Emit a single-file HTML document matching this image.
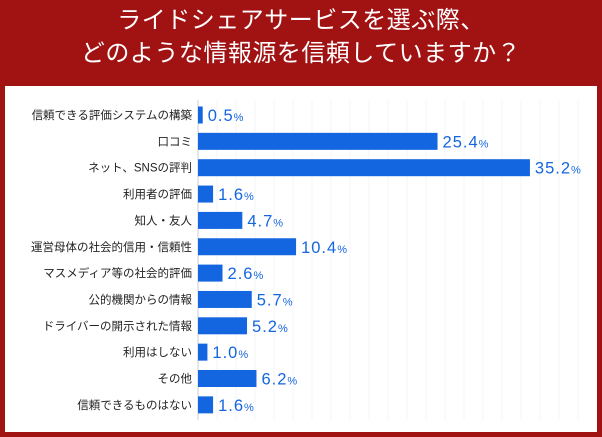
<!DOCTYPE html>
<html><head><meta charset="utf-8"><style>
body{margin:0;width:602px;height:437px;background:#a11213;overflow:hidden;font-family:"Liberation Sans","Noto Sans CJK JP",sans-serif}
#title{position:absolute;left:0;top:4px;width:602px;text-align:center;color:#fff;font-size:24px;line-height:33px;letter-spacing:0.5px}
#panel{position:absolute;left:5px;top:86px;width:592px;height:346px;background:#fff}
</style></head><body>
<div id="title">ライドシェアサービスを選ぶ際、<br>どのような情報源を信頼していますか？</div>
<div id="panel"></div>
<svg id="chart" width="602" height="437" style="position:absolute;left:0;top:0"></svg>
<script>
const categories=["信頼できる評価システムの構築","口コミ","ネット、SNSの評判","利用者の評価","知人・友人","運営母体の社会的信用・信頼性","マスメディア等の社会的評価","公的機関からの情報","ドライバーの開示された情報","利用はしない","その他","信頼できるものはない"];
const values=[0.5,25.4,35.2,1.6,4.7,10.4,2.6,5.7,5.2,1.0,6.2,1.6];
const svg=document.getElementById('chart');
const NS='http://www.w3.org/2000/svg';
const x0=198,pxPer=9.43,y0=115,step=26.35,bh=17;
const xs=v=>x0+v*pxPer, ys=i=>y0+i*step;
function mk(t,a){const e=document.createElementNS(NS,t);for(const k in a)e.setAttribute(k,a[k]);svg.appendChild(e);return e;}
for(let gx=x0+19;gx<590;gx+=19){const g=mk('line',{x1:gx,x2:gx,y1:100,y2:420,stroke:'#f3f4f7','stroke-width':1});

}
const ax=mk('line',{x1:x0,x2:x0,y1:100,y2:420,stroke:'#c8cdd6','stroke-width':1});


categories.forEach((c,i)=>{
 const y=ys(i);
 const l=mk('text',{x:192,y:y+4,'text-anchor':'end','font-size':11.5,fill:'#222'});l.textContent=c;
 
 
 const b=mk('rect',{x:x0,y:y-bh/2,width:Math.max(values[i]*pxPer,0),height:bh,fill:'#1466e0'});
 
 
 const t=mk('text',{x:xs(values[i])+5,y:y+6,'font-size':16.5,fill:'#1466e0','letter-spacing':'1'});
 t.innerHTML=values[i].toFixed(1)+'<tspan font-size="11">%</tspan>';
 
 
});
</script>
</body></html>
